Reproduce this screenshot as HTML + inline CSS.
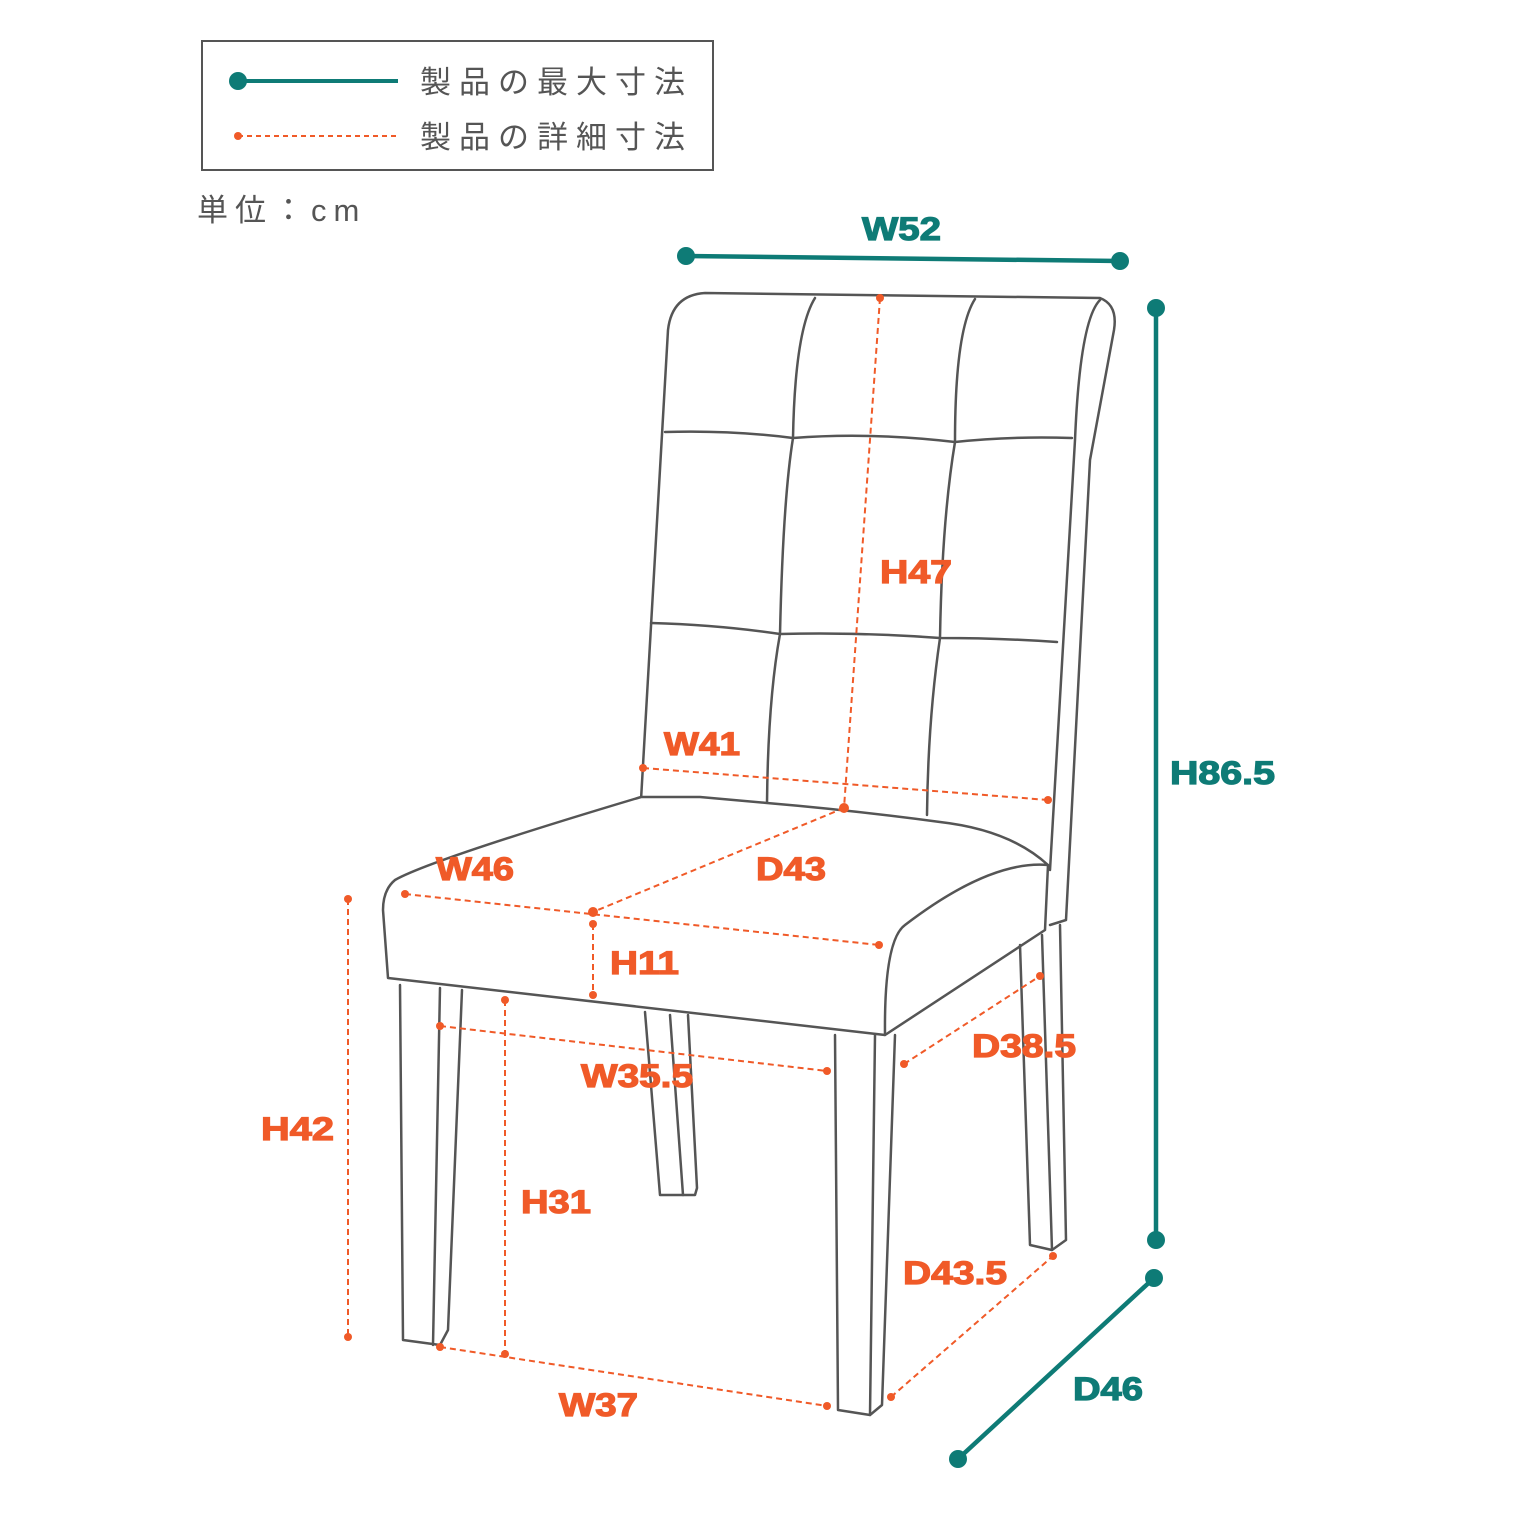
<!DOCTYPE html>
<html><head><meta charset="utf-8"><style>
html,body{margin:0;padding:0;background:#fff;}
svg{display:block}
.jp{font-family:"Liberation Sans","Noto Sans CJK JP",sans-serif;}
.lb{font-family:"Liberation Sans",sans-serif;font-weight:bold;}
</style></head><body>
<svg width="1536" height="1536" viewBox="0 0 1536 1536" xmlns="http://www.w3.org/2000/svg">
<!-- legend -->
<rect x="202" y="41" width="511" height="129" fill="#fff" stroke="#555" stroke-width="2"/>
<line x1="238" y1="81" x2="398" y2="81" stroke="#0e7b76" stroke-width="4"/>
<circle cx="238" cy="81" r="9" fill="#0e7b76"/>
<line x1="238" y1="136" x2="398" y2="136" stroke="#f05a28" stroke-width="2" stroke-dasharray="5,4"/>
<circle cx="238" cy="136" r="4" fill="#f05a28"/>
<text x="420" y="93" class="jp" font-size="31" fill="#555" letter-spacing="8">製品の最大寸法</text>
<text x="420" y="148" class="jp" font-size="31" fill="#555" letter-spacing="8">製品の詳細寸法</text>
<text x="197" y="221" class="jp" font-size="31" fill="#555" letter-spacing="7">単位：cm</text>

<g fill="none" stroke="#555" stroke-width="2.5" stroke-linejoin="round" stroke-linecap="round">
<path d="M641,800 L668,330 Q672,295 705,293 L1100,298 Q1118,305 1114,330 L1090,460 L1066,920 L1050,925"/>
<path d="M1100,300 Q1080,320 1075,440 L1050,870"/>
<path d="M665,432 Q730,430 793,438 Q870,432 955,442 Q1010,436 1072,438"/>
<path d="M651,623 Q720,625 780,634 Q860,632 940,638 Q1000,638 1057,642"/>
<path d="M815,298 Q795,330 793,438 Q783,500 780,634 Q768,700 767,803"/>
<path d="M975,299 Q955,330 955,442 Q942,520 940,638 Q928,720 927,815"/>
<path d="M641,797 Q430,860 395,880 Q383,890 383,910 L388,978 L885,1035 L1045,930 L1048,865 Q1010,830 940,822 Q850,810 767,803 L700,797 Z" fill="#fff"/>
<path d="M885,1035 Q884,940 905,925 Q990,860 1048,865"/>
<path d="M645,1012 L660,1195 L695,1195 L697,1188 L688,1015"/>
<path d="M670,1015 L683,1195"/>
<path d="M1020,945 L1030,1245 L1052,1250 L1066,1240 L1060,925"/>
<path d="M1042,935 L1052,1250"/>
<path d="M400,985 L403,1340 L440,1345 L448,1330 L462,990"/>
<path d="M440,988 L433,1345"/>
<path d="M835,1035 L838,1410 L870,1415 L882,1405 L895,1035"/>
<path d="M875,1035 L870,1415"/>
</g>

<g stroke="#f05a28" stroke-width="2" stroke-dasharray="6,4" fill="none">
<line x1="880" y1="298" x2="844" y2="808"/>
<line x1="643" y1="768" x2="1048" y2="800"/>
<line x1="844" y1="808" x2="593" y2="912"/>
<line x1="405" y1="894" x2="879" y2="945"/>
<line x1="593" y1="924" x2="593" y2="995"/>
<line x1="348" y1="899" x2="348" y2="1337"/>
<line x1="505" y1="1000" x2="505" y2="1354"/>
<line x1="440" y1="1026" x2="827" y2="1071"/>
<line x1="904" y1="1064" x2="1040" y2="976"/>
<line x1="440" y1="1347" x2="827" y2="1406"/>
<line x1="891" y1="1397" x2="1053" y2="1256"/>
</g>
<g fill="#f05a28">
<circle cx="880" cy="298" r="4"/><circle cx="844" cy="808" r="5"/>
<circle cx="643" cy="768" r="4"/><circle cx="1048" cy="800" r="4"/>
<circle cx="593" cy="912" r="5"/><circle cx="405" cy="894" r="4"/><circle cx="879" cy="945" r="4"/>
<circle cx="593" cy="924" r="4"/><circle cx="593" cy="995" r="4"/>
<circle cx="348" cy="899" r="4"/><circle cx="348" cy="1337" r="4"/>
<circle cx="505" cy="1000" r="4"/><circle cx="505" cy="1354" r="4"/>
<circle cx="440" cy="1026" r="4"/><circle cx="827" cy="1071" r="4"/>
<circle cx="904" cy="1064" r="4"/><circle cx="1040" cy="976" r="4"/>
<circle cx="440" cy="1347" r="4"/><circle cx="827" cy="1406" r="4"/>
<circle cx="891" cy="1397" r="4"/><circle cx="1053" cy="1256" r="4"/>
</g>
<g class="lb" font-size="32" fill="#f05a28" stroke="#f05a28" stroke-width="1.2" lengthAdjust="spacingAndGlyphs">
<text x="880" y="583" textLength="72" lengthAdjust="spacingAndGlyphs">H47</text>
<text x="664" y="755" textLength="76" lengthAdjust="spacingAndGlyphs">W41</text>
<text x="756" y="880" textLength="70" lengthAdjust="spacingAndGlyphs">D43</text>
<text x="436" y="880" textLength="78" lengthAdjust="spacingAndGlyphs">W46</text>
<text x="610" y="974" textLength="69" lengthAdjust="spacingAndGlyphs">H11</text>
<text x="261" y="1140" textLength="73" lengthAdjust="spacingAndGlyphs">H42</text>
<text x="581" y="1087" textLength="112" lengthAdjust="spacingAndGlyphs">W35.5</text>
<text x="972" y="1057" textLength="104" lengthAdjust="spacingAndGlyphs">D38.5</text>
<text x="521" y="1213" textLength="70" lengthAdjust="spacingAndGlyphs">H31</text>
<text x="903" y="1284" textLength="104" lengthAdjust="spacingAndGlyphs">D43.5</text>
<text x="559" y="1416" textLength="79" lengthAdjust="spacingAndGlyphs">W37</text>
</g>

<g stroke="#0e7b76" stroke-width="4.5">
<line x1="686" y1="256" x2="1120" y2="261"/>
<line x1="1156" y1="308" x2="1156" y2="1240"/>
<line x1="1154" y1="1278" x2="958" y2="1459"/>
</g>
<g fill="#0e7b76">
<circle cx="686" cy="256" r="9"/><circle cx="1120" cy="261" r="9"/>
<circle cx="1156" cy="308" r="9"/><circle cx="1156" cy="1240" r="9"/>
<circle cx="1154" cy="1278" r="9"/><circle cx="958" cy="1459" r="9"/>
</g>
<g class="lb" font-size="32" fill="#0e7b76" stroke="#0e7b76" stroke-width="1.2">
<text x="862" y="240" textLength="79" lengthAdjust="spacingAndGlyphs">W52</text>
<text x="1170" y="784" textLength="105" lengthAdjust="spacingAndGlyphs">H86.5</text>
<text x="1073" y="1400" textLength="70" lengthAdjust="spacingAndGlyphs">D46</text>
</g>
</svg>
</body></html>
